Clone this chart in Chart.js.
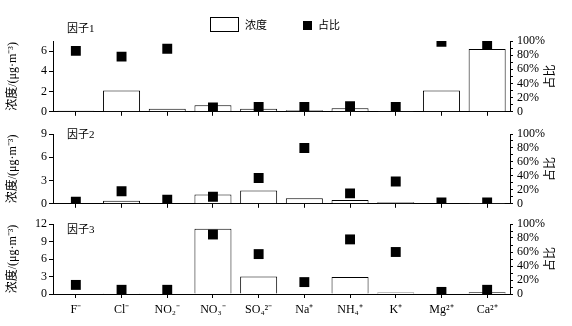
<!DOCTYPE html>
<html>
<head>
<meta charset="utf-8">
<script src="https://cdn.jsdelivr.net/npm/chart.js@4"></script>
<style>
body{margin:0;background:#fff;}
#wrap{position:relative;width:572px;height:326px;}
canvas{position:absolute;left:0;}
.lg{position:absolute;font:11px "Liberation Serif","Noto Sans CJK SC";color:#000;}
</style>
</head>
<body>
<div id="wrap">
  <canvas id="p1" width="572" height="123" style="top:0"></canvas>
  <canvas id="p2" width="572" height="99" style="top:116px"></canvas>
  <canvas id="p3" width="572" height="118" style="top:208px"></canvas>
  <!-- legend -->
  <div style="position:absolute;left:210px;top:17px;width:27px;height:13px;border:1px solid #000;background:#fff"></div>
  <div class="lg" style="left:245px;top:16px">浓度</div>
  <div style="position:absolute;left:303px;top:21px;width:9px;height:9px;background:#000"></div>
  <div class="lg" style="left:318px;top:16px">占比</div>
</div>
<script>
// categories (ions)
var categories = ['F⁻','Cl⁻','NO₂⁻','NO₃⁻','SO₄²⁻','Na⁺','NH₄⁺','K⁺','Mg²⁺','Ca²⁺'];

// factor 1
var conc1 = [0.1, 2.1, 0.3, 0.65, 0.3, 0.15, 0.35, 0.02, 2.1, 6.2];
var pct1  = [86, 78, 89, 6, 7, 7, 8, 7, 99, 95];
// factor 2
var conc2 = [0.05, 0.4, 0.05, 1.2, 1.7, 0.73, 0.5, 0.2, 0, 0.02];
var pct2  = [3, 18, 6, 10, 37, 80, 15, 32, 2, 2];
// factor 3
var conc3 = [0, 0.15, 0, 11.2, 3.0, 0.1, 2.9, 0.25, 0, 0.3];
var pct3  = [13, 6, 6, 85, 57, 17, 78, 60, 3, 6];

// tick values
var ticks1 = [0, 2, 4, 6];
var ticks2 = [0, 3, 6, 9];
var ticks3 = [0, 3, 6, 9, 12];
var pctTicks = [0, 10, 20, 30, 40, 50, 60, 70, 80, 90, 100];

var serif = '"Liberation Serif", "Noto Sans CJK SC"';

//draws panel label and right title (rotated the other way from chart.js default)
var panelText = {
	id: 'panelText',
	afterDraw: function(chart, args, opts){
		var ctx = chart.ctx, a = chart.chartArea;
		ctx.save();
		ctx.fillStyle = '#000';
		ctx.font = '11px ' + serif;
		ctx.textBaseline = 'middle';
		ctx.fillText(opts.label, a.left + 14, a.top + opts.dy);
		ctx.translate(551, (a.top + a.bottom) / 2);
		ctx.rotate(-Math.PI / 2);
		ctx.textAlign = 'center';
		ctx.font = '12px ' + serif;
		ctx.fillText('占比', 0, 0);
		ctx.restore();
	}
};

function makePanel(id, conc, pct, yMax, yTicks, label, dy, padTop, xHeight, showX){
	return new Chart(document.getElementById(id), {
		data: {
			labels: categories,
			datasets: [
				{type: 'line', label: '占比', data: pct, yAxisID: 'y1', showLine: false,
				 pointStyle: 'rect', pointRadius: 7, pointHoverRadius: 7,
				 backgroundColor: '#000', borderColor: '#000', borderWidth: 0, order: 0},
				{type: 'bar', label: '浓度', data: conc, yAxisID: 'y',
				 backgroundColor: '#fff', borderColor: '#000', borderWidth: 1,
				 barPercentage: 0.81, categoryPercentage: 1, order: 1}
			]
		},
		options: {
			responsive: false,
			animation: false,
			layout: {padding: {top: padTop, left: 0, right: 0, bottom: 0}},
			plugins: {legend: {display: false}, tooltip: {enabled: false},
				panelText: {label: label, dy: dy}},
			scales: {
				x: {
					grid: {offset: false, drawOnChartArea: false, drawTicks: true, tickLength: 4, color: '#000'},
					border: {display: true, color: '#000'},
					ticks: {display: showX, color: '#000', font: {family: serif, size: 12}, padding: 5, maxRotation: 0, autoSkip: false},
					afterFit: function(s){ s.height = xHeight; }
				},
				y: {
					position: 'left', min: 0, max: yMax,
					grid: {drawOnChartArea: false, drawTicks: true, tickLength: 4, color: '#000'},
					border: {display: true, color: '#000'},
					ticks: {color: '#000', font: {family: serif, size: 12}, padding: 2, autoSkip: false},
					afterBuildTicks: function(s){ s.ticks = yTicks.map(function(v){ return {value: v}; }); },
					title: {display: true, text: '浓度/(μg·m⁻³)', color: '#000', font: {family: serif, size: 12}, padding: {top: 6, bottom: 0}},
					afterFit: function(s){ s.width = 53; }
				},
				y1: {
					position: 'right', min: 0, max: 100,
					grid: {drawOnChartArea: false, drawTicks: true, tickLength: 3, color: '#000'},
					border: {display: true, color: '#000'},
					ticks: {color: '#000', font: {family: serif, size: 12}, padding: 4, autoSkip: false,
						callback: function(v){ return v === 0 ? '0' : (v % 20 === 0 ? v + '%' : ''); }},
					afterBuildTicks: function(s){ s.ticks = pctTicks.map(function(v){ return {value: v}; }); },
					afterFit: function(s){ s.width = 62; }
				}
			}
		},
		plugins: [panelText]
	});
}

makePanel('p1', conc1, pct1, 7, ticks1, '因子1', -12, 41, 6, false);
makePanel('p2', conc2, pct2, 9, ticks2, '因子2', 1, 18, 6, false);
makePanel('p3', conc3, pct3, 12, ticks3, '因子3', 6, 16, 32, true);
</script>
</body>
</html>
